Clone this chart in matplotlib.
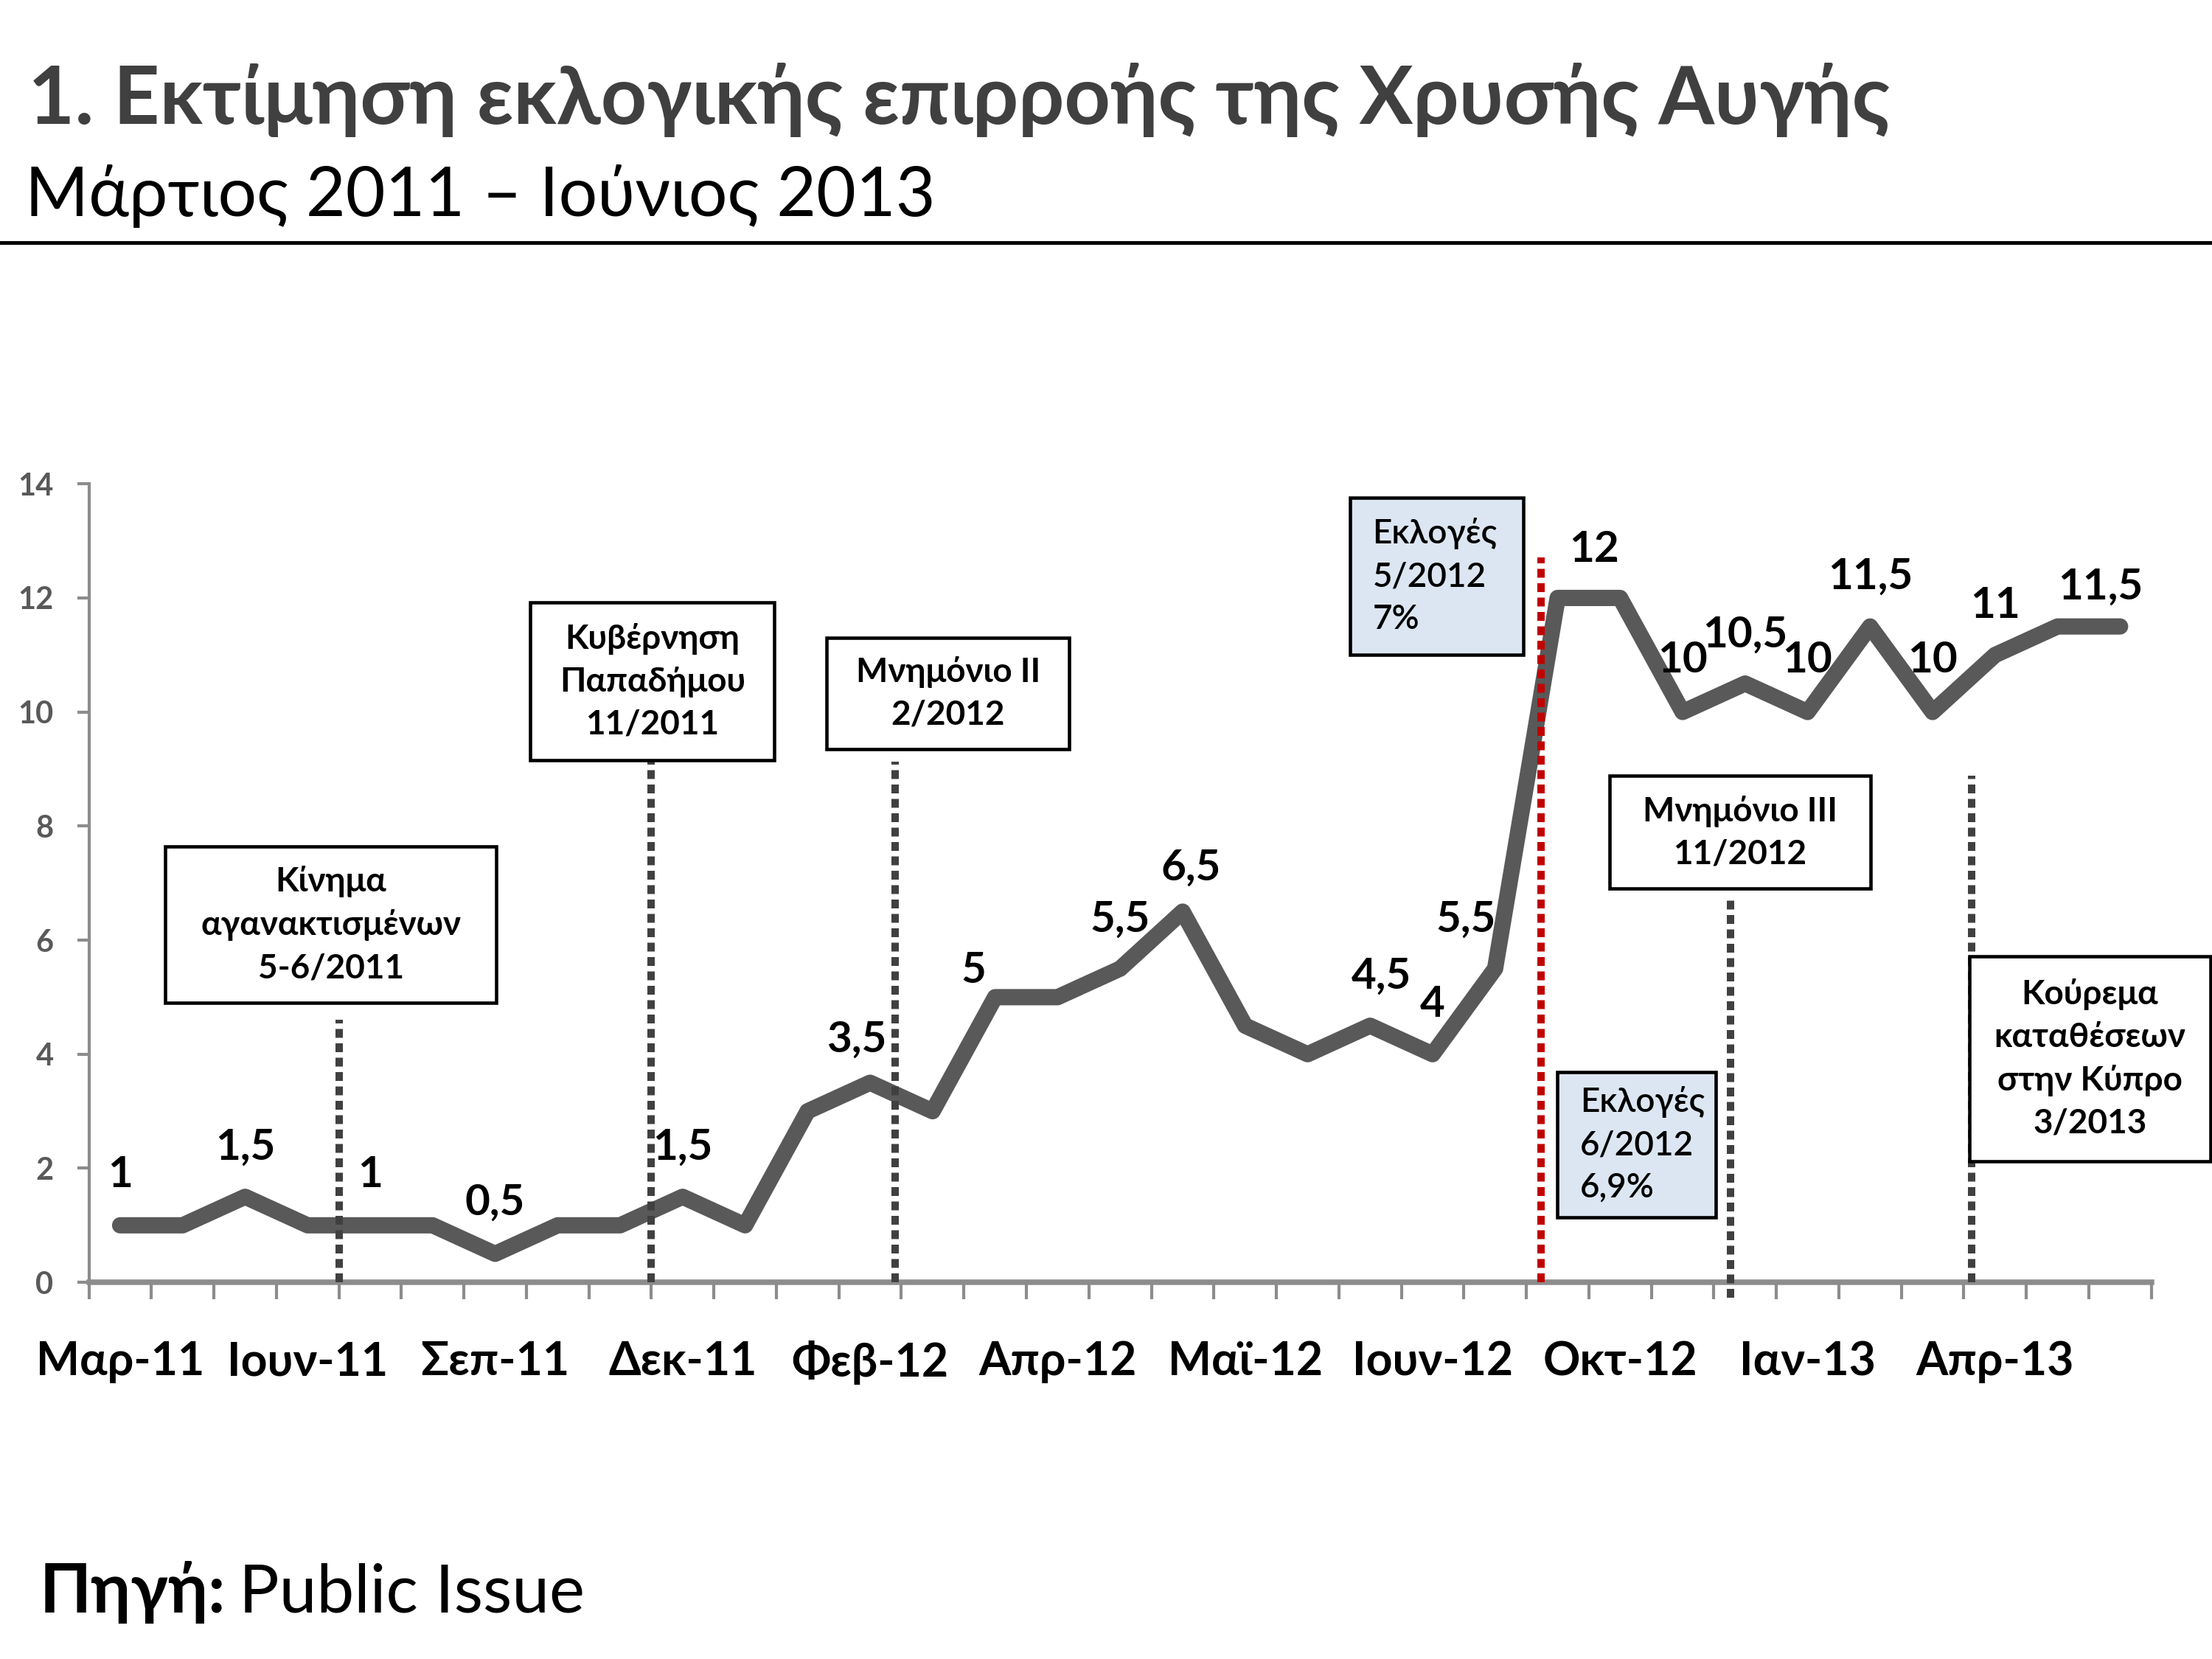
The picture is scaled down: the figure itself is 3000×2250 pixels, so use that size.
import matplotlib
matplotlib.use('Agg')
import matplotlib.pyplot as plt
from matplotlib import font_manager as fm
from matplotlib.patches import Rectangle
from matplotlib.lines import Line2D
from matplotlib.ft2font import FT2Font
import numpy as np


def has_greek(family):
    try:
        path = fm.findfont(fm.FontProperties(family=family), fallback_to_default=False)
        f = FT2Font(path)
        return f.get_char_index(ord('Ε')) != 0 and f.get_char_index(ord('λ')) != 0
    except Exception:
        return False


FONT = 'Lato' if has_greek('Lato') else 'Open Sans'
plt.rcParams['font.family'] = [FONT, 'DejaVu Sans']

# ---------------- data ----------------
values = [1, 1, 1.5, 1, 1, 1, 0.5, 1, 1, 1.5, 1, 3, 3.5, 3, 5, 5, 5.5, 6.5,
          4.5, 4, 4.5, 4, 5.5, 12, 12, 10, 10.5, 10, 11.5, 10, 11, 11.5, 11.5]
tick_positions = [0, 3, 6, 9, 12, 15, 18, 21, 24, 27, 30]
tick_labels = ['Μαρ-11', 'Ιουν-11', 'Σεπ-11', 'Δεκ-11', 'Φεβ-12', 'Απρ-12',
               'Μαϊ-12', 'Ιουν-12', 'Οκτ-12', 'Ιαν-13', 'Απρ-13']
y_ticks = [0, 2, 4, 6, 8, 10, 12, 14]
label_idx = [0, 2, 4, 6, 9, 12, 14, 16, 17, 20, 21, 22, 24, 25, 26, 27, 28, 29, 30, 32]

event_x = [3.5, 8.5, 12.4, 22.73, 25.77, 29.63]
event_top = [4.6, 9.13, 9.13, 12.71, 6.75, 8.88]
event_bottom = [0, 0, 0, 0, -0.27, 0]
event_texts = ['Κίνημα\nαγανακτισμένων\n5-6/2011',
               'Κυβέρνηση\nΠαπαδήμου\n11/2011',
               'Μνημόνιο II\n2/2012',
               'Εκλογές\n5/2012\n7%',
               'Μνημόνιο III\n11/2012',
               'Εκλογές\n6/2012\n6,9%',
               'Κούρεμα\nκαταθέσεων\nστην Κύπρο\n3/2013']

title = '1. Εκτίμηση εκλογικής επιρροής της Χρυσής Αυγής'
subtitle = 'Μάρτιος 2011 – Ιούνιος 2013'
source_bold = 'Πηγή:'
source_text = 'Public Issue'

# ---------------- layout / style ----------------
W, H = 1568.0, 1176.0


def fx(x):
    return x / W


def fy(y):
    return 1 - y / H


label_offsets = [(0, 0.88), (0, 0.87), (0, 0.88), (0, 0.89), (0, 0.87),
                 (-0.22, 0.75), (-0.35, 0.47), (0, 0.86), (0.13, 0.77),
                 (0.18, 0.87), (0, 0.87), (-0.47, 0.86), (-0.42, 0.84),
                 (0, 0.91), (0, 0.85), (0, 0.91), (0, 0.87), (0, 0.91),
                 (0, 0.87), (-0.31, 0.69)]

event_colors = ['#404040', '#404040', '#404040', '#C00000', '#404040', '#404040']

# boxes: (x0, y0, x1, y1) in reference pixel space, fill, align
box_geom = [(117, 600, 352, 711), (376, 427, 549, 539), (586, 452, 758, 531),
            (957, 353, 1080, 464), (1141, 550, 1326, 630), (1104, 760, 1216, 863),
            (1396, 678, 1567, 823)]
box_fill = ['white', 'white', 'white', '#DCE6F2', 'white', '#DCE6F2', 'white']
box_align = ['center', 'center', 'center', 'left', 'center', 'left', 'center']
box_weight = ['bold', 'bold', 'bold', 'semibold', 'bold', 'semibold', 'bold']

fig = plt.figure(figsize=(10, 7.5), dpi=300)
fig.patch.set_facecolor('white')

fig.text(fx(20), fy(88), title, fontsize=26.2, fontweight='bold', color='#404040',
         va='baseline', ha='left')
fig.text(fx(18), fy(153), subtitle, fontsize=22.3, color='black', va='baseline', ha='left')
fig.add_artist(Line2D([0, 1], [fy(172), fy(172)], color='black', lw=1.2,
                      transform=fig.transFigure))

ax = fig.add_axes([fx(63), fy(909), (1525 - 63) / W, (909 - 343) / H])
ax.set_xlim(-0.5, len(values) - 0.5)
ax.set_ylim(0, 14)
ax.set_facecolor('none')

xs = np.arange(len(values))
ax.plot(xs, values, color='#595959', lw=5.3, solid_capstyle='round',
        solid_joinstyle='round', zorder=3, clip_on=False)

for i, (dx, dy) in zip(label_idx, label_offsets):
    txt = ('%g' % values[i]).replace('.', ',')
    ax.text(i + dx, values[i] + dy, txt, ha='center', va='center', fontsize=14,
            fontweight='bold', color='black', zorder=6, clip_on=False)

for x, b, t, c in zip(event_x, event_bottom, event_top, event_colors):
    ax.plot([x, x], [b, t], color=c, lw=2.4, linestyle=(0, (1.2, 0.75)),
            dash_capstyle='butt', zorder=4, clip_on=False)

for s in ['top', 'right']:
    ax.spines[s].set_visible(False)
ax.spines['left'].set_color('#8C8C8C')
ax.spines['left'].set_linewidth(1.0)
ax.spines['bottom'].set_color('#8C8C8C')
ax.spines['bottom'].set_linewidth(1.8)

ax.set_yticks(y_ticks)
ax.set_yticklabels([str(v) for v in y_ticks])
ax.tick_params(axis='y', length=3.8, width=1, color='#8C8C8C', labelsize=10,
               labelcolor='#595959', pad=7.7)
for lab in ax.get_yticklabels():
    lab.set_fontweight('bold')

ax.set_xticks(tick_positions)
ax.set_xticklabels(tick_labels)
ax.set_xticks(np.arange(-0.5, len(values), 1), minor=True)
ax.tick_params(axis='x', which='major', length=0, labelsize=15, labelcolor='black', pad=19)
ax.tick_params(axis='x', which='minor', length=5.5, width=1, color='#8C8C8C')
for lab in ax.get_xticklabels():
    lab.set_fontweight('bold')

for (x0, y0, x1, y1), txt, fc, al, wt in zip(box_geom, event_texts, box_fill,
                                              box_align, box_weight):
    fig.add_artist(Rectangle((fx(x0), fy(y1)), (x1 - x0) / W, (y1 - y0) / H,
                             transform=fig.transFigure, facecolor=fc,
                             edgecolor='black', lw=1.1, zorder=5))
    if al == 'center':
        tx = fx((x0 + x1) / 2)
    else:
        tx = fx(x0 + 16)
    fig.text(tx, fy((y0 + y1) / 2), txt, ha=al, va='center', ma=al, fontsize=11,
             fontweight=wt, color='black', linespacing=1.46, zorder=6)

t1 = fig.text(fx(28), fy(1143), source_bold, fontsize=21.8, fontweight='bold',
              color='black', va='baseline', ha='left')
fig.canvas.draw()
bb = t1.get_window_extent(renderer=fig.canvas.get_renderer())
x_next = fig.transFigure.inverted().transform((bb.x1, bb.y0))[0] + 0.006
fig.text(x_next, fy(1143), source_text, fontsize=21.8, color='black',
         va='baseline', ha='left')

fig.savefig('out.png', dpi=300, facecolor='white')
